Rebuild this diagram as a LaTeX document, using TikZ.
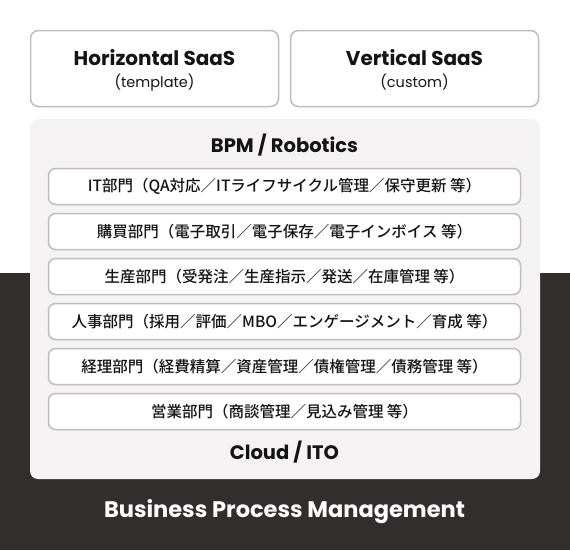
\documentclass[tikz,border=0pt]{standalone}
\usepackage{fontspec}
\setmainfont{Poppins}
\newfontfamily\jpfont{Noto Sans CJK JP}[UprightFont = * Medium]
\definecolor{dark}{RGB}{51, 46, 46}
\definecolor{panel}{RGB}{244, 242, 242}
\definecolor{edge}{RGB}{194, 188, 186}
\definecolor{ink}{RGB}{20, 20, 20}

\tikzset{
    saas/.style = {draw = edge, line width = 1.5pt, rounded corners = 8pt, fill = white,
        minimum width = 248pt, minimum height = 76pt, align = center, text = ink, text depth = 0pt},
    dept/.style = {draw = edge, line width = 1.5pt, rounded corners = 7pt, fill = white,
        minimum width = 472pt, minimum height = 36pt, text = ink, font = \jpfont\fontsize{15.5}{18}\selectfont},
    head/.style = {text = ink, font = \bfseries\fontsize{19.5}{22}\selectfont}
}

\begin{document}
\begin{tikzpicture}[x = 1pt, y = -1pt]
    \useasboundingbox (0,0) rectangle (570,550);
    \fill[dark] (0,273) rectangle (570,550);
    \fill[panel, rounded corners = 8pt] (30,119) rectangle (540,479);

    % top boxes
    \node[saas] (horiz) at (154.5,68.5)
    {
        {\bfseries\fontsize{20}{22}\selectfont Horizontal SaaS} \\[7pt]
        {\fontsize{14.5}{16}\selectfont (template)}
    };
    \node[saas] (vert) at (414.5,68.5)
    {
        {\bfseries\fontsize{20}{22}\selectfont Vertical SaaS} \\[7pt]
        {\fontsize{14.5}{16}\selectfont (custom)}
    };

    \node[head] (bpm) at (284.5,145) {BPM / Robotics};

    % departments
    \foreach \txt [count = \i] in {
        IT部門（QA対応／ITライフサイクル管理／保守更新 等）,
        購買部門（電子取引／電子保存／電子インボイス 等）,
        生産部門（受発注／生産指示／発送／在庫管理 等）,
        人事部門（採用／評価／MBO／エンゲージメント／育成 等）,
        経理部門（経費精算／資産管理／債権管理／債務管理 等）,
        営業部門（商談管理／見込み管理 等）}
    {
        \node[dept] (dept\i) at (284.5,141.5 + 45*\i) {\txt};
    }

    \node[head] (cloud) at (284.5,452) {Cloud / ITO};
    \node[font = \bfseries\fontsize{22.5}{26}\selectfont, text = white] (bpmgmt) at (284.5,512) {Business Process Management};
\end{tikzpicture}
\end{document}
